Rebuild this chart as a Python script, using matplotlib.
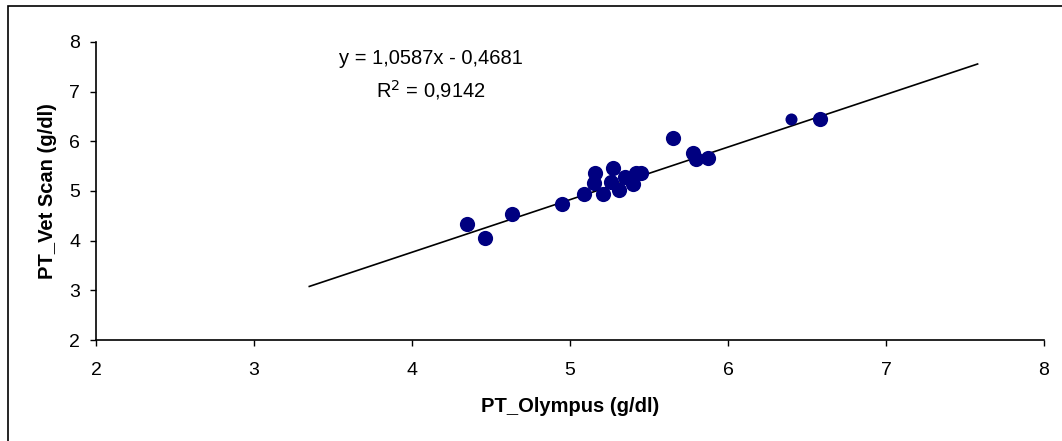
import numpy as np
import matplotlib.pyplot as plt
from matplotlib.patches import Rectangle

plt.rcParams['font.family'] = ['Liberation Sans', 'DejaVu Sans']

# protein readings, Olympus analyser vs Vet Scan
olympus = [4.35, 4.46, 4.63, 4.95, 5.09, 5.16, 5.15, 5.21, 5.27, 5.26,
           5.31, 5.35, 5.40, 5.42, 5.45, 5.65, 5.78, 5.80, 5.875, 6.58]
vetscan = [4.34, 4.05, 4.54, 4.74, 4.94, 5.37, 5.17, 4.94, 5.46, 5.19,
           5.03, 5.29, 5.15, 5.37, 5.37, 6.06, 5.76, 5.65, 5.66, 6.45]
# one reading plotted with a smaller marker
olympus_small = [6.40]
vetscan_small = [6.45]

slope = 1.0587
intercept = -0.4681
r_squared = 0.9142

fig = plt.figure(figsize=(10.62, 4.41), dpi=100)
ax = fig.add_axes([0.0904, 0.229, 0.8926, 0.6758])

# chart area border
fig.patches.append(Rectangle((8 / 1062, -0.1), 1.2, 1 - 6 / 441 + 0.1,
                             transform=fig.transFigure, fill=False,
                             edgecolor='black', linewidth=1.2))

all_x = olympus + olympus_small
xs = np.array([min(all_x) - 1, max(all_x) + 1])
ax.plot(xs, slope * xs + intercept, color='black', linewidth=1.2, zorder=2)

ax.scatter(olympus, vetscan, s=120, color='#000080', zorder=3, linewidths=0)
ax.scatter(olympus_small, vetscan_small, s=75, color='#000080', zorder=3, linewidths=0)

ax.set_xlim(2, 8)
ax.set_ylim(2, 8)
ax.set_xticks(range(2, 9))
ax.set_yticks(range(2, 9))
ax.tick_params(direction='out', length=4.5, width=1, labelsize=14)
ax.tick_params(axis='x', pad=11)
ax.tick_params(axis='y', pad=7)
for side in ('top', 'right'):
    ax.spines[side].set_visible(False)
for side in ('left', 'bottom'):
    ax.spines[side].set_linewidth(1.2)

ax.set_xlabel('PT_Olympus (g/dl)', fontsize=14.5, fontweight='bold', labelpad=13)
ax.set_ylabel('PT_Vet Scan (g/dl)', fontsize=14.5, fontweight='bold', labelpad=9)

eq = f'y = {slope:.4f}x - {abs(intercept):.4f}'.replace('.', ',')
r2 = f'R$^2$ = {r_squared:.4f}'.replace('.', ',')
ax.text(0.353, 0.945, eq, transform=ax.transAxes, ha='center', va='center', fontsize=14.5)
ax.text(0.353, 0.838, r2, transform=ax.transAxes, ha='center', va='center', fontsize=14.5)

fig.savefig('out.png', dpi=100)
